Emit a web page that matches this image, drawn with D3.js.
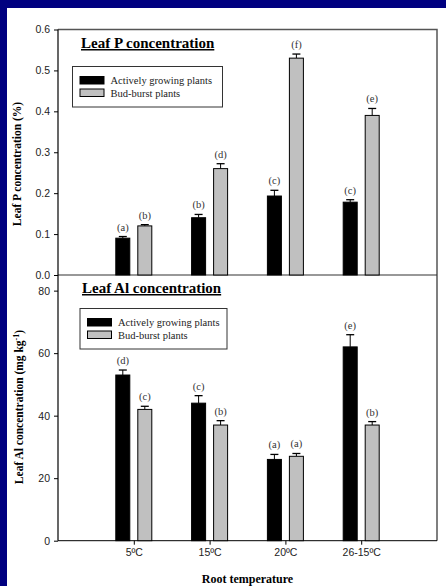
<!DOCTYPE html>
<html>
<head>
<meta charset="utf-8">
<script src="https://cdn.jsdelivr.net/npm/d3@7"></script>
<style>
  html, body { margin: 0; padding: 0; background: #000080; }
  svg { display: block; }
</style>
</head>
<body>
<svg id="chart" width="446" height="586"></svg>
<script>
// data
var temps = ["5ºC", "15ºC", "20ºC", "26-15ºC"];
var series = ["Actively growing plants", "Bud-burst plants"];

var pActive = [0.09, 0.14, 0.193, 0.178];
var pActiveErr = [0.004, 0.008, 0.014, 0.006];
var pBud = [0.12, 0.26, 0.53, 0.39];
var pBudErr = [0.003, 0.012, 0.01, 0.017];
var pLetA = ["(a)", "(b)", "(c)", "(c)"];
var pLetB = ["(b)", "(d)", "(f)", "(e)"];

var alActive = [53, 44, 26, 62];
var alActiveErr = [1.6, 2.4, 1.6, 3.9];
var alBud = [42, 37, 27, 37];
var alBudErr = [1.0, 1.4, 0.9, 1.1];
var alLetA = ["(d)", "(c)", "(a)", "(e)"];
var alLetB = ["(c)", "(b)", "(a)", "(b)"];

var pTicks = [0.0, 0.1, 0.2, 0.3, 0.4, 0.5, 0.6];
var alTicks = [0, 20, 40, 60, 80];

var svg = d3.select("#chart");
var serif = "'Liberation Serif', 'Times New Roman', serif";
var sans = "'Liberation Sans', Arial, sans-serif";

// blue slide background and white page
svg.append("rect").attr("x", 7).attr("y", 8).attr("width", 439).attr("height", 578).attr("fill", "#fff");

var left = 58, right = 437;
var x = d3.scaleLinear().domain([0, 5]).range([left, right]);
var yP = d3.scaleLinear().domain([0, 0.6]).range([275, 29.5]);
var yAl = d3.scaleLinear().domain([0, 85]).range([540.7, 275]);

// frames
svg.append("path")
  .attr("d", "M" + left + "," + yP(0.6) + "H" + right + "V" + yAl(0))
  .attr("fill", "none").attr("stroke", "#555").attr("stroke-width", 1.5);
svg.append("line").attr("x1", left).attr("x2", right).attr("y1", 275).attr("y2", 275)
  .attr("stroke", "#333").attr("stroke-width", 1.2);
svg.append("line").attr("x1", left).attr("x2", right).attr("y1", yAl(0)).attr("y2", yAl(0))
  .attr("stroke", "#000").attr("stroke-width", 1);

function panel(y, ticks, fmt, aVals, aErr, bVals, bErr, aLet, bLet) {
  var ax = svg.append("g").attr("transform", "translate(" + left + ",0)")
    .call(d3.axisLeft(y).tickValues(ticks).tickFormat(fmt).tickSize(4).tickPadding(4));
  ax.select(".domain").remove();
  ax.selectAll("text").attr("font-family", sans).attr("font-size", 10.5).attr("fill", "#222");
  ax.selectAll("line").attr("stroke", "#000");

  var groups = [
    { vals: aVals, err: aErr, let: aLet, dx: -11, fill: "#000" },
    { vals: bVals, err: bErr, let: bLet, dx: 11, fill: "#c0c0c0" }
  ];
  groups.forEach(function (g) {
    var gg = svg.append("g");
    gg.selectAll("line.err").data(g.vals).enter().append("line")
      .attr("x1", function (d, i) { return x(i + 1) + g.dx; })
      .attr("x2", function (d, i) { return x(i + 1) + g.dx; })
      .attr("y1", function (d) { return y(d); })
      .attr("y2", function (d, i) { return y(d + g.err[i]); })
      .attr("stroke", "#000");
    gg.selectAll("line.cap").data(g.vals).enter().append("line")
      .attr("x1", function (d, i) { return x(i + 1) + g.dx - 4; })
      .attr("x2", function (d, i) { return x(i + 1) + g.dx + 4; })
      .attr("y1", function (d, i) { return y(d + g.err[i]); })
      .attr("y2", function (d, i) { return y(d + g.err[i]); })
      .attr("stroke", "#000").attr("stroke-width", 1.3);
    gg.selectAll("rect").data(g.vals).enter().append("rect")
      .attr("x", function (d, i) { return x(i + 1) + g.dx - 7; })
      .attr("width", 14)
      .attr("y", function (d) { return y(d); })
      .attr("height", function (d) { return y(0) - y(d); })
      .attr("fill", g.fill).attr("stroke", "#000").attr("stroke-width", 1);
    gg.selectAll("text").data(g.vals).enter().append("text")
      .attr("x", function (d, i) { return x(i + 1) + g.dx; })
      .attr("y", function (d, i) { return y(d + g.err[i]) - 6; })
      .attr("text-anchor", "middle")
      .attr("font-family", serif).attr("font-size", 10.5).attr("fill", "#333")
      .text(function (d, i) { return g.let[i]; });
  });
}

panel(yP, pTicks, d3.format(".1f"), pActive, pActiveErr, pBud, pBudErr, pLetA, pLetB);
panel(yAl, alTicks, d3.format("d"), alActive, alActiveErr, alBud, alBudErr, alLetA, alLetB);

// left axis line
svg.append("line").attr("x1", left).attr("x2", left).attr("y1", yP(0.6)).attr("y2", yAl(0))
  .attr("stroke", "#000").attr("stroke-width", 1.2);

// x axis at bottom
var xa = svg.append("g").attr("transform", "translate(0," + yAl(0) + ")")
  .call(d3.axisBottom(x).tickValues([1, 2, 3, 4]).tickFormat(function (d) { return temps[d - 1]; })
    .tickSize(4).tickPadding(4));
xa.select(".domain").remove();
xa.selectAll("text").attr("font-family", sans).attr("font-size", 10.5).attr("fill", "#222");

// titles
function title(txt, tx, ty) {
  svg.append("text").attr("x", tx).attr("y", ty)
    .attr("font-family", serif).attr("font-weight", "bold").attr("font-size", 15)
    .attr("text-decoration", "underline").attr("fill", "#000").text(txt);
}
title("Leaf P concentration", 81, 48);
title("Leaf Al concentration", 82, 293);

// legends
function legend(lx, ly, w, h) {
  svg.append("rect").attr("x", lx).attr("y", ly).attr("width", w).attr("height", h)
    .attr("fill", "#fff").attr("stroke", "#333").attr("stroke-width", 1);
  var fills = ["#000", "#c0c0c0"];
  series.forEach(function (s, i) {
    svg.append("rect").attr("x", lx + 7.5).attr("y", ly + 10 + i * 12.5).attr("width", 24).attr("height", 7.5)
      .attr("fill", fills[i]).attr("stroke", "#000").attr("stroke-width", 1);
    svg.append("text").attr("x", lx + 38).attr("y", ly + 17.5 + i * 12.5)
      .attr("font-family", serif).attr("font-size", 10.5).attr("fill", "#222").text(s);
  });
}
legend(72.5, 66.5, 150, 40.5);
legend(80, 308.5, 147, 40.5);

// axis titles
svg.append("text")
  .attr("transform", "translate(21,164) rotate(-90)")
  .attr("text-anchor", "middle").attr("font-family", serif).attr("font-weight", "bold")
  .attr("font-size", 11.5).attr("fill", "#000").text("Leaf P concentration (%)");
var yt2 = svg.append("text")
  .attr("transform", "translate(23,407) rotate(-90)")
  .attr("text-anchor", "middle").attr("font-family", serif).attr("font-weight", "bold")
  .attr("font-size", 11.5).attr("fill", "#000");
yt2.append("tspan").text("Leaf Al concentration (mg kg");
yt2.append("tspan").attr("dy", -4).attr("font-size", 8).text("-1");
yt2.append("tspan").attr("dy", 4).text(")");

svg.append("text").attr("x", 247.5).attr("y", 583)
  .attr("text-anchor", "middle").attr("font-family", serif).attr("font-weight", "bold")
  .attr("font-size", 12).attr("fill", "#000").text("Root temperature");
</script>
</body>
</html>
